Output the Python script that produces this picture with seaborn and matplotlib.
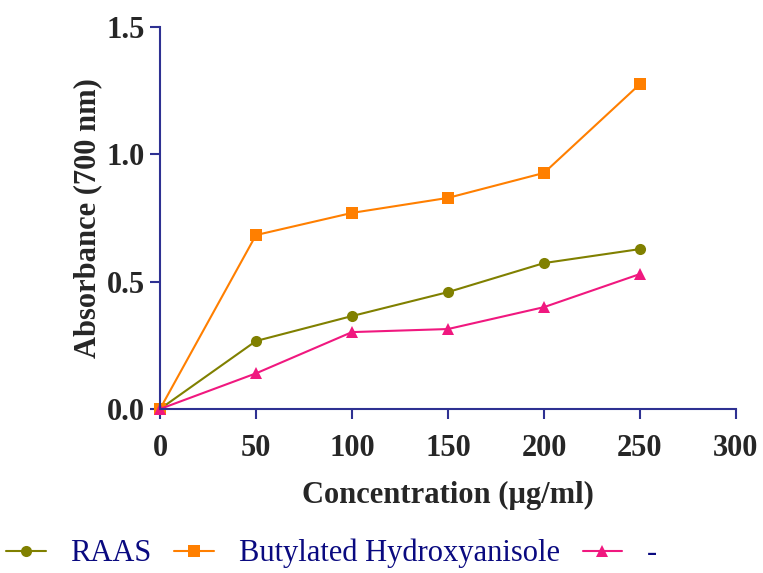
import numpy as np
import pandas as pd
import matplotlib
matplotlib.use("Agg")
import matplotlib.pyplot as plt
import seaborn as sns

# data
conc = [0, 50, 100, 150, 200, 250]
raas = [0.0, 0.267, 0.365, 0.459, 0.573, 0.628]
bha = [0.0, 0.683, 0.770, 0.829, 0.927, 1.276]
third = [0.0, 0.140, 0.302, 0.314, 0.400, 0.530]
labels = ["RAAS", "Butylated Hydroxyanisole", "-"]

sns.set_style("ticks")
plt.rcParams['font.family'] = ['Liberation Serif', 'DejaVu Serif']

navy = "#2E3192"
fig = plt.figure(figsize=(7.63, 5.73), dpi=100)
ax = fig.add_axes([0.2097, 0.2862, 0.7549, 0.6667])

series = [(raas, "#808000", "o", 8), (bha, "#FF7F00", "s", 8), (third, "#F0187F", "^", 9)]
for (vals, col, mk, ms), lab in zip(series, labels):
    sns.lineplot(x=conc, y=vals, ax=ax, color=col, marker=mk, markersize=ms,
                 markeredgewidth=0, linewidth=1.5, label=lab, clip_on=False)

ax.set_xlim(0, 300)
ax.set_ylim(0, 1.5)
ax.set_xticks(range(0, 301, 50))
ax.set_yticks([0, 0.5, 1.0, 1.5])
ax.set_yticklabels(["0.0", "0.5", "1.0", "1.5"])
for s in ["top", "right"]:
    ax.spines[s].set_visible(False)
for s in ["left", "bottom"]:
    ax.spines[s].set_color(navy)
    ax.spines[s].set_linewidth(1.5)
ax.tick_params(axis="both", direction="out", length=7, width=1.5, color=navy,
               labelsize=22, pad=4)
ax.tick_params(axis="x", pad=11)
for t in ax.get_xticklabels() + ax.get_yticklabels():
    t.set_fontweight("bold")

ax.set_xlabel("Concentration (µg/ml)", fontsize=22, fontweight="bold", labelpad=13)
ax.set_ylabel("Absorbance (700 nm)", fontsize=22, fontweight="bold", labelpad=3)

ax.get_legend().remove()
handles, labs = ax.get_legend_handles_labels()
leg = fig.legend(handles, labs, loc="center left", bbox_to_anchor=(0.0, 0.034), ncol=3,
                 frameon=False, fontsize=22, handlelength=1.3, columnspacing=0.75,
                 handletextpad=0.8, borderaxespad=0.0, borderpad=0.2)
for t in leg.get_texts():
    t.set_color("#0A0A80")

fig.savefig("out.png", dpi=100)
